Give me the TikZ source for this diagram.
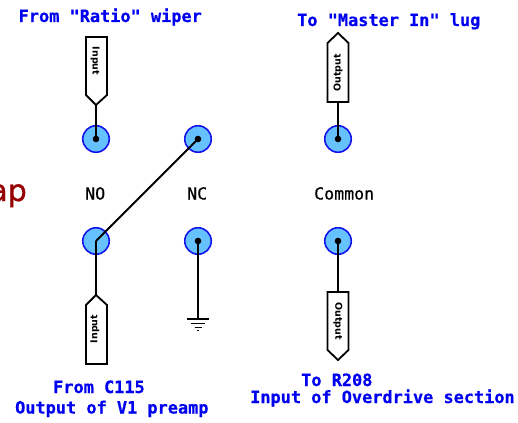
\documentclass[tikz,border=0pt]{standalone}
\usepackage{fontspec}
\setmonofont{DejaVu Sans Mono}
\setsansfont{DejaVu Sans}
\newfontfamily\capfont[FakeBold=0.6]{DejaVu Sans Mono Bold}
\newfontfamily\contactfont[FakeBold=0.8]{DejaVu Sans Mono}
\newfontfamily\redfont[FakeBold=0.8]{DejaVu Sans}
\definecolor{termfill}{RGB}{102,194,255}
\definecolor{termline}{RGB}{20,20,235}
\definecolor{capblue}{RGB}{0,0,240}
\definecolor{darkred}{RGB}{150,0,0}
\tikzset{
  term/.style={circle,draw=termline,fill=termfill,line width=1.6pt,minimum size=26.5pt,inner sep=0pt},
  wire/.style={black,line width=1.8pt},
  dotmark/.style={circle,fill=black,minimum size=6.6pt,inner sep=0pt},
  pin/.style={draw=black,fill=white,line width=1.8pt,line join=miter},
  pinlabel/.style={font=\sffamily\bfseries\fontsize{9.5}{10}\selectfont,inner sep=0pt,anchor=center},
  captext/.style={font=\capfont\fontsize{16.9}{18}\selectfont,text=capblue,anchor=base west,inner sep=0pt},
  contact/.style={font=\contactfont\fontsize{16.6}{18}\selectfont,text=black,anchor=base west,inner sep=0pt}
}
\begin{document}
\begin{tikzpicture}[x=1pt,y=-1pt]
\useasboundingbox (0,0) rectangle (518,422);
% terminals
\node[term] (t1) at (96,139) {};
\node[term] (t2) at (198,139) {};
\node[term] (t3) at (338,139) {};
\node[term] (b1) at (96,241) {};
\node[term] (b2) at (198,241) {};
\node[term] (b3) at (338,241) {};
% pin tips
\coordinate (p1) at (96,105);
\coordinate (p2) at (96,295);
\coordinate (p3) at (338,102);
\coordinate (p4) at (338,292);
\coordinate (gnd) at (198,319);
% pin shapes
\draw[pin] (86,37) -- (107,37) -- (107,95) -- (p1) -- (86,95) -- cycle;
\draw[pin] (p2) -- (107,305) -- (107,364) -- (86,364) -- (86,305) -- cycle;
\draw[pin] (338,33) -- (348.5,43) -- (348.5,102) -- (327.5,102) -- (327.5,43) -- cycle;
\draw[pin] (327.5,292) -- (348.5,292) -- (348.5,350) -- (338,360) -- (327.5,350) -- cycle;
\node[pinlabel,rotate=-90] (l1) at (95,61) {Input};
\node[pinlabel,rotate=90] (l2) at (95,329) {Input};
\node[pinlabel,rotate=90] (l3) at (338,73) {Output};
\node[pinlabel,rotate=-90] (l4) at (338,321) {Output};
% wires
\draw[wire] (t1.center) -- (p1);
\draw[wire] (t3.center) -- (p3);
\draw[wire] (b1.center) -- (p2);
\draw[wire] (b3.center) -- (p4);
\draw[wire] (b2.center) -- (gnd);
\draw[wire] (b1.center) -- (t2.center);
% dots
\node[dotmark] (d1) at (t1.center) {};
\node[dotmark] (d2) at (t2.center) {};
\node[dotmark] (d3) at (t3.center) {};
\node[dotmark] (d5) at (b2.center) {};
\node[dotmark] (d6) at (b3.center) {};
% ground
\draw[black,line width=1.6pt] (187,319) -- (209,319);
\draw[black,line width=1.5pt] (191,323.5) -- (205,323.5);
\draw[black,line width=1.3pt] (194.5,327.5) -- (201.5,327.5);
\draw[black,line width=1pt] (197,330.5) -- (199,330.5);
% texts
\node[font=\redfont\fontsize{30}{32}\selectfont,text=darkred,anchor=base east,inner sep=0pt] (cut) at (27,201) {ap};
\node[contact] (no) at (85,199.5) {NO};
\node[contact] (nc) at (187,199.5) {NC};
\node[contact] (com) at (314,199.5) {Common};
\node[captext] (c1) at (18.5,22) {From "Ratio" wiper};
\node[captext] (c2) at (297,26) {To "Master In" lug};
\node[captext] (c3) at (53,393) {From C115};
\node[captext] (c4) at (15,413.5) {Output of V1 preamp};
\node[captext] (c5) at (301,386) {To R208};
\node[captext] (c6) at (250,403) {Input of Overdrive section};
\end{tikzpicture}
\end{document}
